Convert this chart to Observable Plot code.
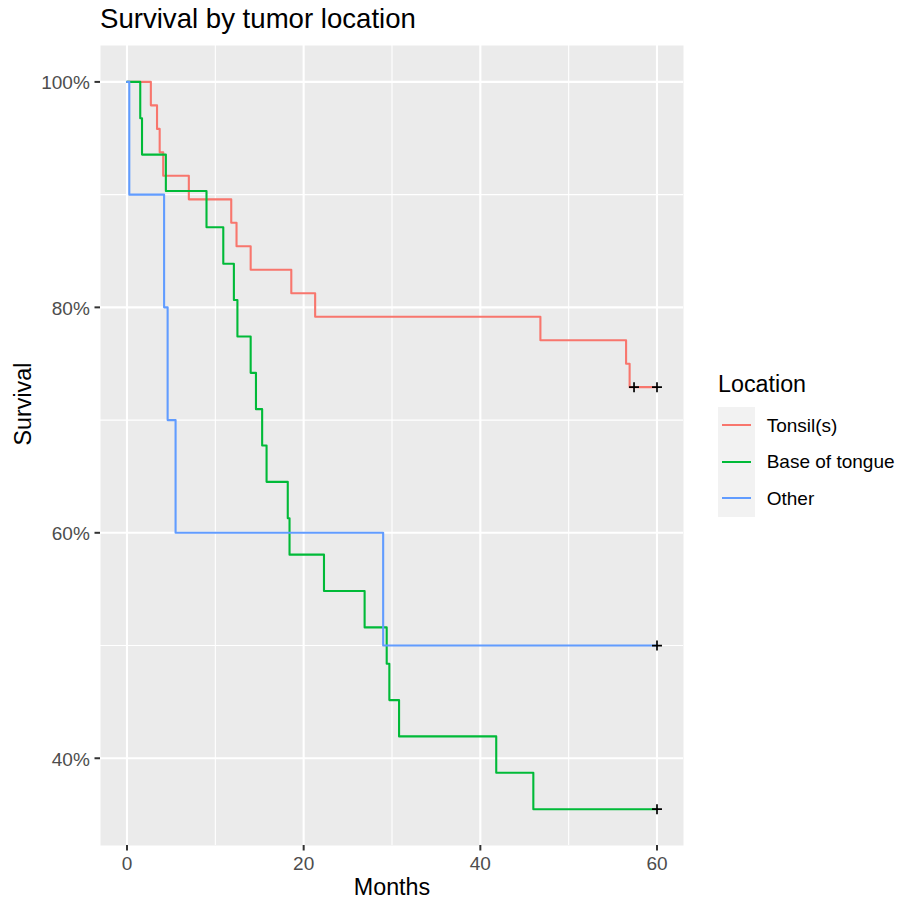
<!DOCTYPE html>
<html>
<head>
<meta charset="utf-8">
<script src="https://cdn.jsdelivr.net/npm/d3@7"></script>
<script src="https://cdn.jsdelivr.net/npm/@observablehq/plot@0.6"></script>
<style>
  html, body { margin: 0; padding: 0; background: #fff; }
  #wrap { position: relative; width: 899px; height: 902px; font-family: "Liberation Sans", Arial, Helvetica, sans-serif; }
  #wrap svg { position: absolute; left: 0; top: 0; }
  .abs { position: absolute; white-space: nowrap; }
</style>
</head>
<body>
<div id="wrap"></div>
<script>
// ---- data ----
const groups = ["Tonsil(s)", "Base of tongue", "Other"];
const colors = ["#F8766D", "#00BA38", "#619CFF"];

const tonsilMonths   = [0, 2.7, 3.4, 3.7, 4.1, 7.0, 11.8, 12.4, 14.0, 18.6, 21.3, 46.8, 56.5, 56.9, 60];
const tonsilSurvival = [100, 97.92, 95.83, 93.75, 91.67, 89.58, 87.5, 85.42, 83.33, 81.25, 79.17, 77.08, 75.0, 72.92, 72.92];

const tongueMonths   = [0, 1.5, 1.7, 4.4, 9.0, 10.9, 12.1, 12.5, 14.0, 14.6, 15.3, 15.8, 18.2, 18.4, 22.3, 26.9, 29.4, 29.7, 30.8, 41.8, 46.0, 60];
const tongueSurvival = [100, 96.77, 93.55, 90.32, 87.10, 83.87, 80.65, 77.42, 74.19, 70.97, 67.74, 64.52, 61.29, 58.06, 54.84, 51.61, 48.39, 45.16, 41.94, 38.71, 35.48, 35.48];

const otherMonths    = [0, 0.26, 4.2, 4.6, 5.5, 29.0, 60];
const otherSurvival  = [100, 90, 80, 70, 60, 50, 50];

const censorGroup    = ["Tonsil(s)", "Tonsil(s)", "Base of tongue", "Other"];
const censorMonths   = [57.4, 60, 60, 60];
const censorSurvival = [72.92, 72.92, 35.48, 50];

const xTicks = [0, 20, 40, 60];
const xMinor = [10, 30, 50];
const yTicks = [40, 60, 80, 100];
const yMinor = [50, 70, 90];

// ---- build tables ----
const curves = [];
[[groups[0], tonsilMonths, tonsilSurvival],
 [groups[1], tongueMonths, tongueSurvival],
 [groups[2], otherMonths, otherSurvival]].forEach(([g, ms, ss]) => {
  ms.forEach((m, i) => curves.push({group: g, months: m, survival: ss[i]}));
});
const censors = censorMonths.map((m, i) => ({group: censorGroup[i], months: m, survival: censorSurvival[i]}));

const FONT = '"Liberation Sans", Arial, Helvetica, sans-serif';

const plot = Plot.plot({
  width: 899,
  height: 902,
  marginLeft: 100,
  marginRight: 216,
  marginTop: 45,
  marginBottom: 57,
  style: {fontFamily: FONT, background: "transparent", overflow: "visible"},
  x: {domain: [-3, 63]},
  y: {domain: [32.26, 103.23]},
  color: {domain: groups, range: colors},
  marks: [
    Plot.frame({fill: "#EBEBEB", stroke: "none"}),
    Plot.gridX(xMinor, {stroke: "white", strokeOpacity: 1, strokeWidth: 1.1}),
    Plot.gridY(yMinor, {stroke: "white", strokeOpacity: 1, strokeWidth: 1.1}),
    Plot.gridX(xTicks, {stroke: "white", strokeOpacity: 1, strokeWidth: 2.1}),
    Plot.gridY(yTicks, {stroke: "white", strokeOpacity: 1, strokeWidth: 2.1}),
    // ticks
    Plot.axisX(xTicks, {tickSize: 5.5, color: "#333333", strokeWidth: 2, tickFormat: () => "", label: null}),
    Plot.axisY(yTicks, {tickSize: 5.5, color: "#333333", strokeWidth: 2, tickFormat: () => "", label: null}),
    // tick labels
    Plot.axisX(xTicks, {tickSize: 0, tickPadding: 11, color: "#4D4D4D", fontSize: 19, label: null}),
    Plot.axisY(yTicks, {tickSize: 0, tickPadding: 10.7, dy: 1.2, color: "#4D4D4D", fontSize: 19, label: null, tickFormat: d => d + "%"}),
    // axis titles
    Plot.text(["Months"], {frameAnchor: "bottom", lineAnchor: "top", dy: 33, fontSize: 23.3, fill: "black"}),
    Plot.text(["Survival"], {frameAnchor: "left", lineAnchor: "middle", rotate: -90, dx: -77.4, fontSize: 23.3, fill: "black"}),
    // curves
    Plot.line(curves, {x: "months", y: "survival", z: "group", stroke: "group", curve: "step-after", strokeWidth: 2.1}),
    Plot.dot(censors, {x: "months", y: "survival", symbol: "plus", r: 3.3, stroke: "black", strokeWidth: 1.7})
  ]
});

const wrap = document.getElementById("wrap");
wrap.appendChild(plot);

function addText(txt, left, top, size, color) {
  const d = document.createElement("div");
  d.className = "abs";
  d.textContent = txt;
  d.style.left = left + "px";
  d.style.top = top + "px";
  d.style.fontSize = size + "px";
  d.style.lineHeight = size + "px";
  d.style.color = color;
  wrap.appendChild(d);
  return d;
}
function addBox(left, top, w, h, bg) {
  const d = document.createElement("div");
  d.className = "abs";
  d.style.left = left + "px";
  d.style.top = top + "px";
  d.style.width = w + "px";
  d.style.height = h + "px";
  d.style.background = bg;
  wrap.appendChild(d);
  return d;
}

// title
addText("Survival by tumor location", 100, 4.5, 27.6, "black");

// legend
addText("Location", 718, 373, 23.3, "black");
addBox(718, 407, 37, 110, "#F2F2F2");
const keyCenters = [425, 461.7, 498];
groups.forEach((g, i) => {
  addBox(722, keyCenters[i] - 1, 29, 2.1, colors[i]);
  addText(g, 766.7, keyCenters[i] - 9.4, 19, "black");
});
</script>
</body>
</html>
